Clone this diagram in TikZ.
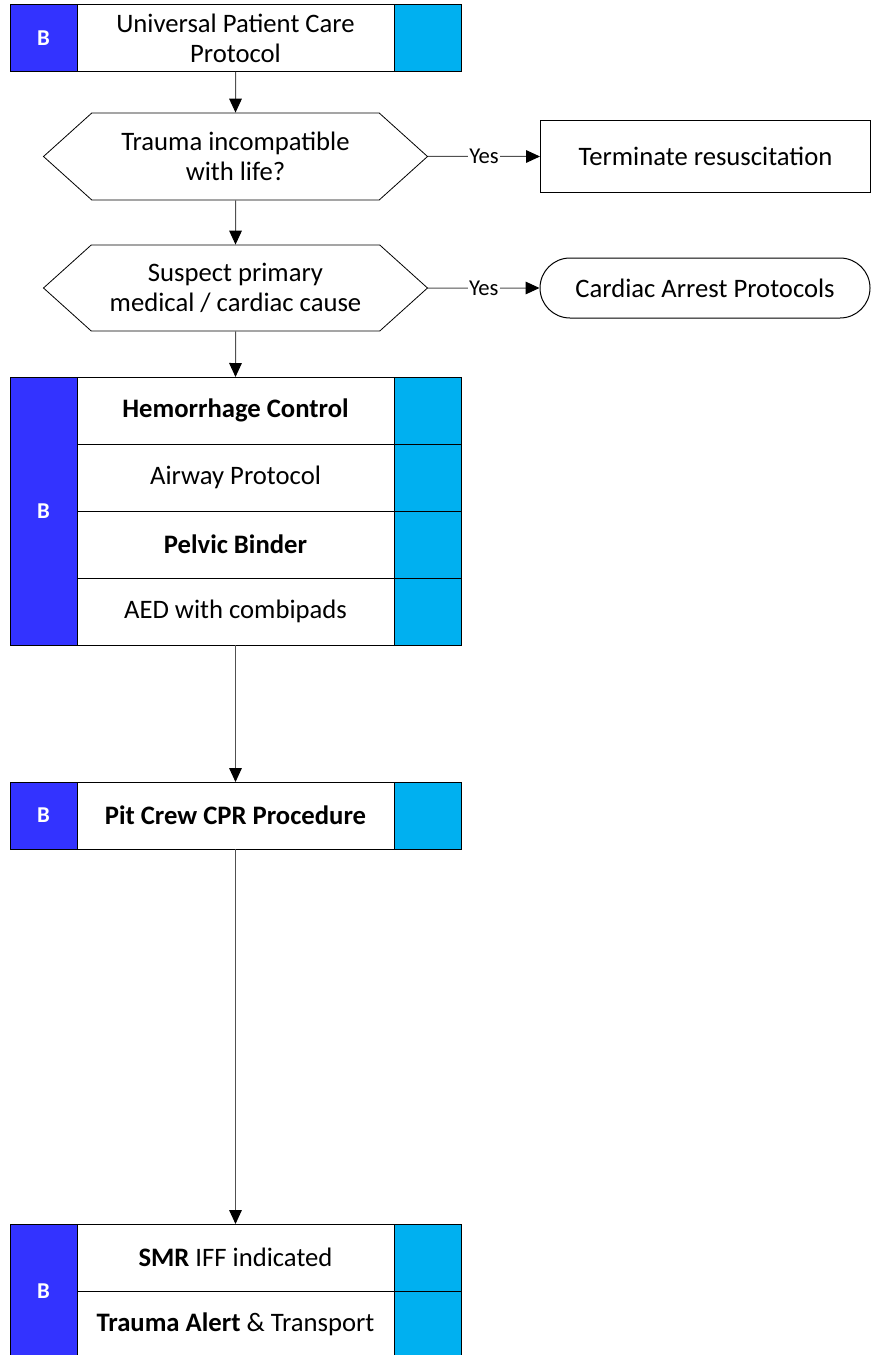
\documentclass[tikz,border=0pt]{standalone}
\usepackage{fontspec}
\setmainfont{Carlito}
\usetikzlibrary{arrows.meta,positioning,shapes.symbols}
\definecolor{panelB}{HTML}{3333FF}
\definecolor{panelC}{HTML}{00B0F0}
\definecolor{linkG}{HTML}{505050}
\tikzset{
  cell/.style={rectangle, draw=black, line width=0.75pt, fill=white, align=center,
               font=\fontsize{20}{22.5}\selectfont, minimum width=237.75pt,
               minimum height=50.25pt, inner sep=0pt, outer sep=0pt},
  bpanel/.style={rectangle, draw=black, line width=0.75pt, fill=panelB, text=white,
                 font=\fontsize{17}{19}\selectfont\bfseries, minimum width=50.25pt,
                 minimum height=#1, inner sep=0pt, outer sep=0pt},
  bpanel/.default=50.25pt,
  cpanel/.style={rectangle, draw=black, line width=0.75pt, fill=panelC,
                 minimum width=50.25pt, minimum height=50.25pt, inner sep=0pt, outer sep=0pt},
  choice/.style={signal, signal to=west and east, signal pointer angle=84, draw=black,
                 line width=0.6pt, fill=white, align=center, font=\fontsize{20}{22.5}\selectfont,
                 minimum width=288pt, minimum height=65.25pt, inner sep=0pt},
  endbox/.style={rectangle, draw=black, line width=0.75pt, align=center,
                 font=\fontsize{20}{22.5}\selectfont, minimum width=247.5pt, minimum height=#1},
  arr/.style={-{Triangle[length=10.5pt,width=9.5pt,color=black]}, line width=0.75pt, draw=linkG},
  yeslbl/.style={fill=white, inner sep=1pt, font=\fontsize{17}{19}\selectfont},
}
\begin{document}
\begin{tikzpicture}[x=0.75pt, y=-0.75pt]
    \useasboundingbox (0,0) rectangle (873,1355);
    % Entry
    \node[cell] (upc) at (235.5,38.5) {Universal Patient Care\\Protocol};
    \node[bpanel, left=0pt of upc] (upcB) {B};
    \node[cpanel, right=0pt of upc] (upcC) {};
    % Decisions
    \node[choice] (trauma) at (235.5,156.5) {Trauma incompatible\\with life?};
    \node[endbox=54pt] (term) at (705.5,156.5) {Terminate resuscitation};
    \node[choice, minimum height=64.5pt] (cause) at (235.5,288) {Suspect primary\\medical / cardiac cause};
    \node[endbox=45pt, rounded corners=22.5pt] (arrest) at (705,288) {Cardiac Arrest Protocols};
    % Interventions
    \node[cell] (hemo) at (235.5,410.5) {\textbf{Hemorrhage Control}};
    \node[cell, below=0pt of hemo] (airway) {Airway Protocol};
    \node[cell, below=0pt of airway] (pelvic) {\textbf{Pelvic Binder}};
    \node[cell, below=0pt of pelvic] (aed) {AED with combipads};
    \node[bpanel=201pt] (careB) at (43.5,511) {B};
    \foreach \n in {hemo,airway,pelvic,aed}
      \node[cpanel, right=0pt of \n] (\n C) {};
    % CPR
    \node[cell] (pit) at (235.5,815.5) {\textbf{Pit Crew CPR Procedure}};
    \node[bpanel, left=0pt of pit] (pitB) {B};
    \node[cpanel, right=0pt of pit] (pitC) {};
    % Transport
    \node[cell] (smr) at (235.5,1257.5) {\textbf{SMR} IFF indicated};
    \node[cell, below=0pt of smr] (alert) {\textbf{Trauma Alert} \& Transport};
    \node[bpanel=100.5pt] (moveB) at (43.5,1291) {B};
    \node[cpanel, right=0pt of smr] (smrC) {};
    \node[cpanel, right=0pt of alert] (alertC) {};
    % Links
    \draw[arr] (upc) -- (trauma);
    \draw[arr] (trauma) -- node[yeslbl] {Yes} (term);
    \draw[arr] (trauma) -- (cause);
    \draw[arr] (cause) -- node[yeslbl] {Yes} (arrest);
    \draw[arr] (cause) -- (hemo);
    \draw[arr] (aed) -- (pit);
    \draw[arr] (pit) -- (smr);
\end{tikzpicture}
\end{document}
